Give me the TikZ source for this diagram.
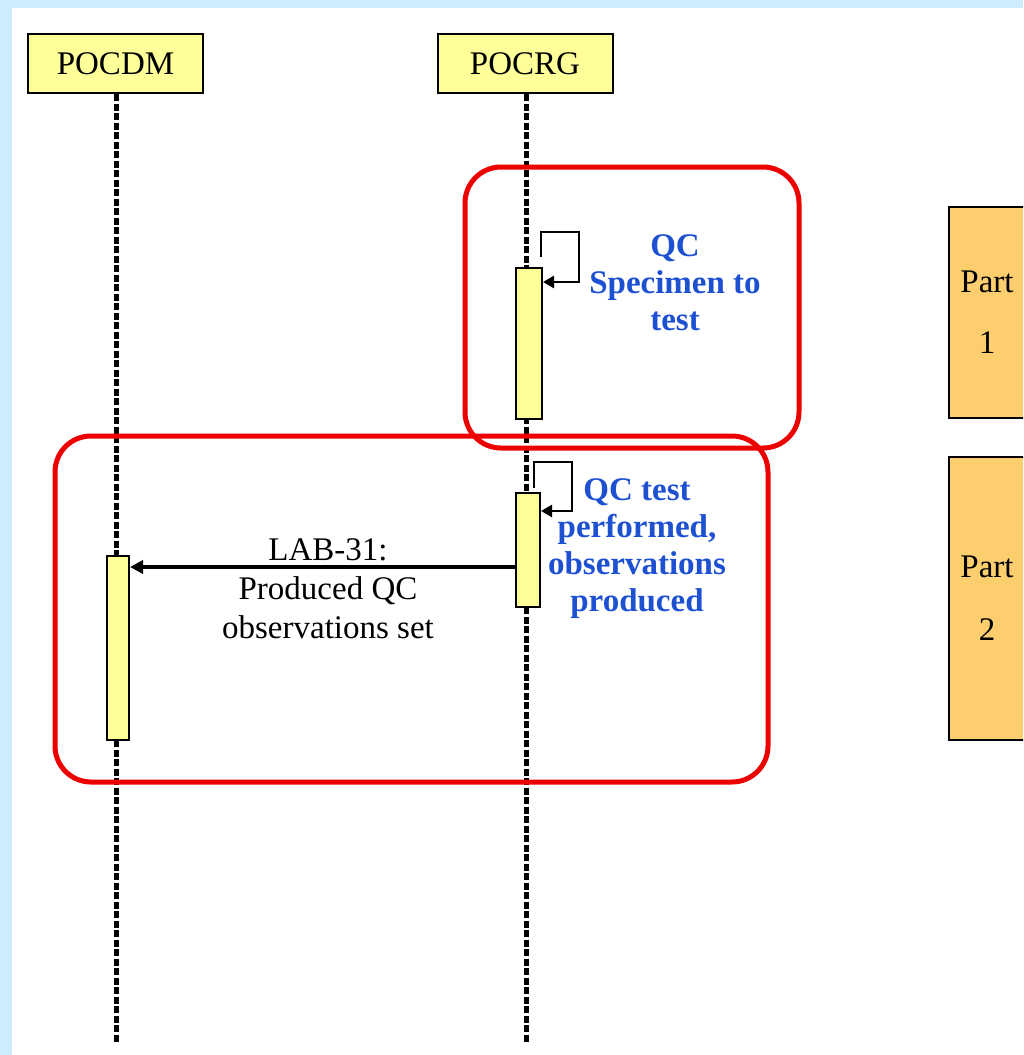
\documentclass[tikz,border=0pt]{standalone}
\usepackage{fontspec}
\setmainfont{Liberation Serif}
\usetikzlibrary{arrows.meta}
\definecolor{bgblue}{RGB}{204,236,255}
\definecolor{actorfill}{RGB}{255,255,153}
\definecolor{partfill}{RGB}{252,206,110}
\definecolor{qcblue}{RGB}{30,80,210}
\definecolor{redline}{RGB}{236,0,0}
\begin{document}
\begin{tikzpicture}[x=1pt,y=-1pt,
  actor/.style={draw, line width=2pt, fill=actorfill, minimum width=175pt, minimum height=59pt, inner sep=0pt, font=\fontsize{33}{37}\selectfont},
  actbar/.style={draw, line width=2pt, fill=actorfill, inner sep=0pt},
  life/.style={line width=5pt, dash pattern=on 7pt off 2.5pt},
  region/.style={draw=redline, line width=5pt, rounded corners=36pt},
  loopline/.style={line width=2.5pt, -{Triangle[length=11pt,width=12pt]}},
  msg/.style={line width=3.5pt, -{Triangle[length=13pt,width=13pt]}},
  qctext/.style={text=qcblue, font=\bfseries\fontsize{33}{37}\selectfont, align=center, inner sep=0pt},
  msgtext/.style={font=\fontsize{33}{39}\selectfont, align=center, inner sep=0pt},
  partbox/.style={draw, line width=2pt, fill=partfill, minimum width=76pt, inner sep=0pt, font=\fontsize{33}{37}\selectfont, align=center}
]
\clip (0,0) rectangle (1023,1055);
\useasboundingbox (0,0) rectangle (1023,1055);
\fill[bgblue] (0,0) rectangle (1023,1055);
\fill[white] (12,8) rectangle (1023,1055);

% actors
\node[actor] (pocdm) at (115.5,63.5) {POCDM};
\node[actor] (pocrg) at (525,63.5) {POCRG};
\coordinate (dmend) at (116,1042);
\coordinate (rgend) at (526,1042);
\draw[life] (pocdm.south -| dmend) -- (dmend);
\draw[life] (pocrg.south -| rgend) -- (rgend);

% red regions
\draw[region] (55,436) rectangle (768,782);
\draw[region] (465,167) rectangle (799,448);

% activation bars
\node[actbar, minimum width=26pt, minimum height=151pt] (bar1) at (529,343.5) {};
\node[actbar, minimum width=24pt, minimum height=114pt] (bar2) at (528,550) {};
\node[actbar, minimum width=22pt, minimum height=184pt] (bardm) at (118,648) {};

% self loop 1
\coordinate (l1a) at (541,257);
\coordinate (l1b) at (579,232);
\coordinate (l1y) at (0,282);
\draw[loopline] (l1a) |- (l1b) |- (bar1.east |- l1y);
\node[qctext] (qc1) at (675,283) {QC\\Specimen to\\test};

% self loop 2
\coordinate (l2a) at (534,488);
\coordinate (l2b) at (572,462);
\coordinate (l2y) at (0,511);
\draw[loopline] (l2a) |- (l2b) |- (bar2.east |- l2y);
\node[qctext] (qc2) at (637,549) {QC test\\performed,\\observations\\produced};

% message
\coordinate (msgy) at (0,567);
\draw[msg] (bar2.west |- msgy) -- (bardm.east |- msgy);
\node[msgtext] (lab) at (328,589) {LAB-31:\\Produced QC\\observations set};

% parts
\node[partbox, minimum height=211pt] (part1) at (987,312.5) {Part\\[24pt]1};
\node[partbox, minimum height=283pt] (part2) at (987,598.5) {Part\\[26pt]2};
\end{tikzpicture}
\end{document}
